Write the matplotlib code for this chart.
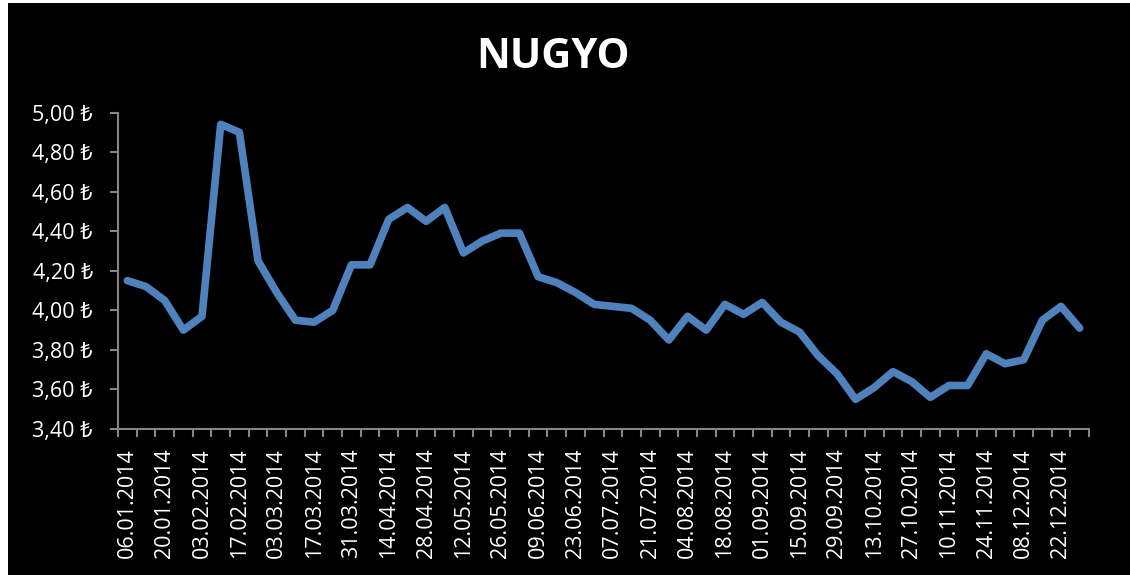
import matplotlib
matplotlib.use("Agg")
import numpy as np
import pandas as pd
import matplotlib.pyplot as plt
from matplotlib.patches import Rectangle
from matplotlib.ticker import FixedLocator, FuncFormatter

# weekly closing prices, 2014
dates = pd.date_range("2014-01-06", periods=52, freq="7D")
prices = [4.15, 4.12, 4.05, 3.90, 3.97, 4.94, 4.90, 4.25, 4.09, 3.95,
          3.94, 4.00, 4.23, 4.23, 4.46, 4.52, 4.45, 4.52, 4.29, 4.35,
          4.39, 4.39, 4.17, 4.14, 4.09, 4.03, 4.02, 4.01, 3.95, 3.85,
          3.97, 3.90, 4.03, 3.98, 4.04, 3.94, 3.89, 3.77, 3.68, 3.55,
          3.61, 3.69, 3.64, 3.56, 3.62, 3.62, 3.78, 3.73, 3.75, 3.95,
          4.02, 3.91]
labels = [d.strftime("%d.%m.%Y") for d in dates]

fonts = ["Open Sans", "Noto Sans", "DejaVu Sans"]
plt.rcParams["font.family"] = fonts

fig = plt.figure(figsize=(11.3, 5.75), dpi=100, facecolor="white")
# black chart area with thin white border on left/top
fig.patches.append(Rectangle((8 / 1130, -0.01), 1.01, 1.01 - 3 / 575, transform=fig.transFigure,
                             facecolor="black", edgecolor="none", zorder=-10))

ax = fig.add_axes([118 / 1130, 1 - 429 / 575, (1089 - 118) / 1130, (429 - 112.5) / 575])
ax.set_facecolor("black")

x = np.arange(len(prices))
ax.plot(x, prices, color="#4F81BD", linewidth=5.5, solid_joinstyle="round",
        solid_capstyle="round", clip_on=False)

ax.set_xlim(-0.5, len(prices) - 0.5)
ax.set_ylim(3.4, 5.0)
ax.set_yticks(np.arange(3.4, 5.01, 0.2))
ax.yaxis.set_major_formatter(FuncFormatter(lambda v, p: f"{v:.2f}".replace(".", ",") + " \u20ba"))

ax.set_xticks(x[::2])
ax.set_xticklabels(labels[::2], rotation=90)
ax.xaxis.set_minor_locator(FixedLocator(np.arange(len(prices) + 1) - 0.5))

for s in ["top", "right"]:
    ax.spines[s].set_visible(False)
for s in ["left", "bottom"]:
    ax.spines[s].set_color("#868686")
    ax.spines[s].set_linewidth(1.5)

ax.tick_params(axis="x", which="major", length=0, pad=14, labelsize=15.5, labelcolor="white")
ax.tick_params(axis="x", which="minor", length=6, width=1.5, color="#868686", direction="out")
ax.tick_params(axis="y", length=6, width=1.5, color="#868686", pad=12, labelsize=15.5,
               labelcolor="white")

fig.text(553 / 1130, 1 - 57 / 575, "NUGYO", color="white", fontsize=30, fontweight="bold",
         ha="center", va="center")

fig.savefig("out.png", dpi=100, facecolor=fig.get_facecolor())
